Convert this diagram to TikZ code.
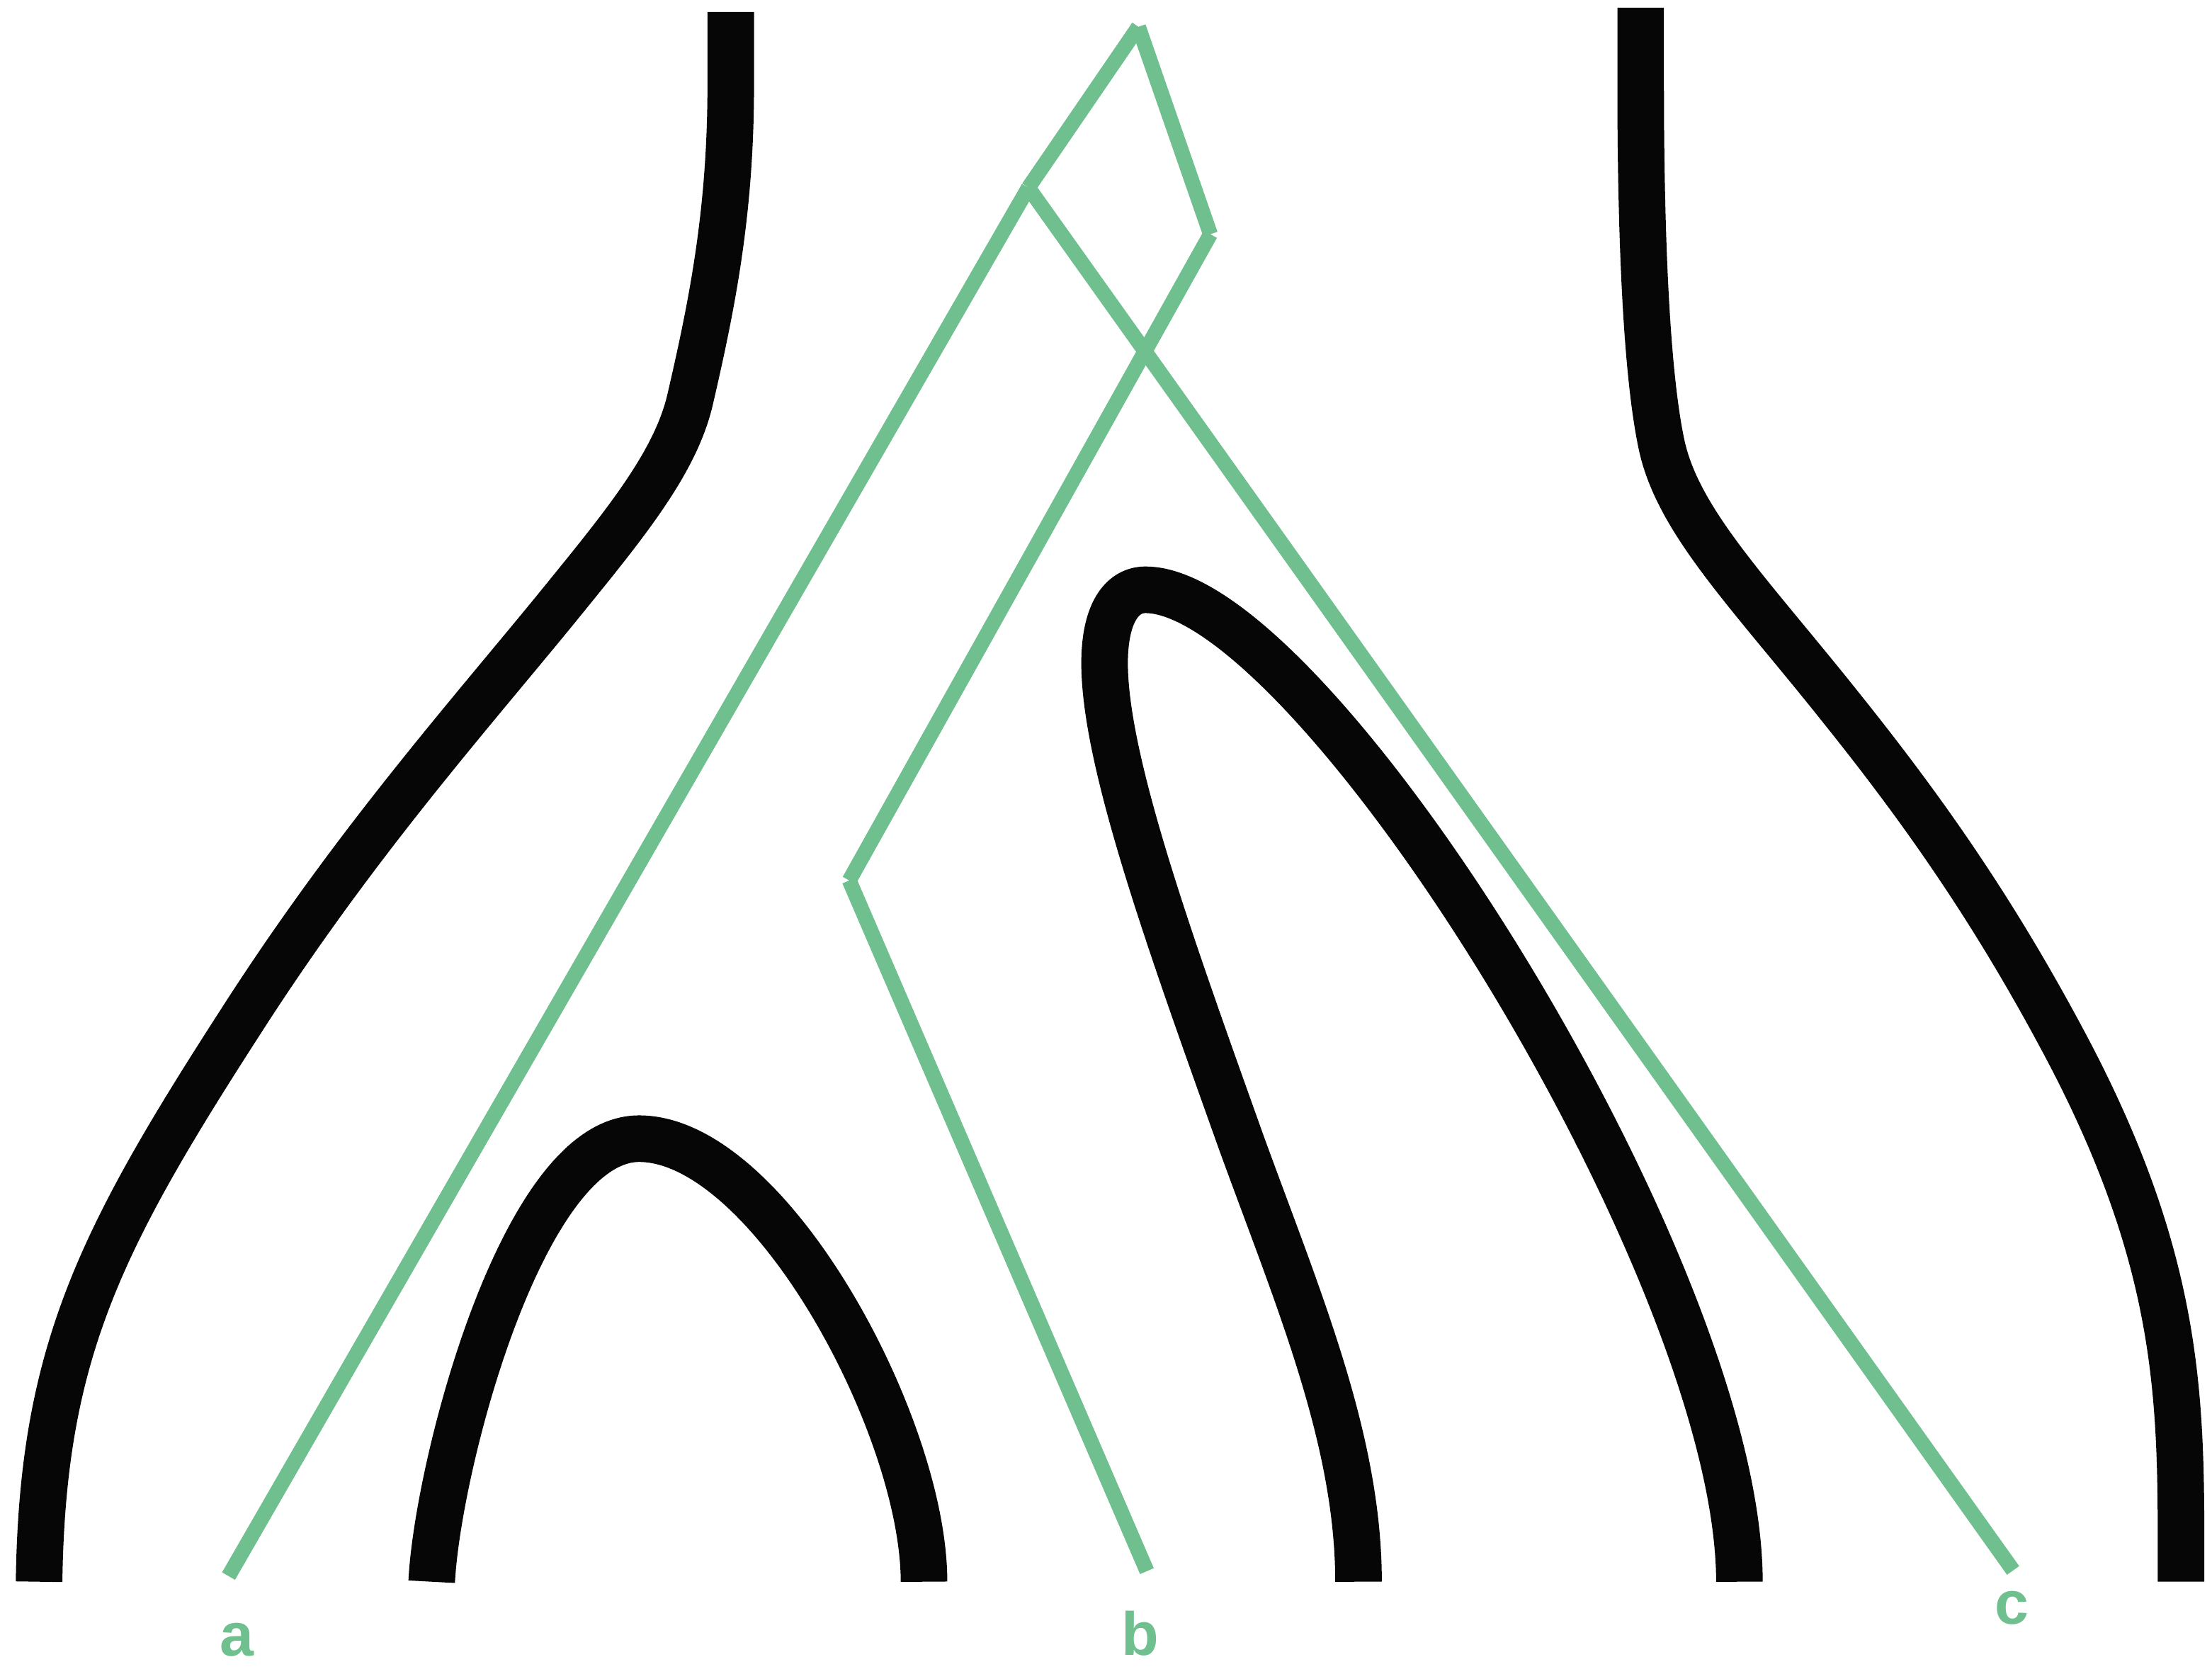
\documentclass[tikz,border=0pt]{standalone}
\usepackage{fontspec}
\setmainfont{Liberation Sans}
\definecolor{treegreen}{RGB}{111,191,143}
\definecolor{inkblack}{RGB}{5,6,5}
\begin{document}
\begin{tikzpicture}[x=0.019917cm,y=-0.019917cm,
  branch/.style={draw=treegreen,line width=6pt,line cap=butt},
  strand/.style={draw=inkblack,line width=18.7pt,line cap=butt,line join=round},
  leaflabel/.style={text=treegreen,font=\fontsize{24.5pt}{28pt}\selectfont\bfseries,anchor=base,inner sep=0pt}]
\useasboundingbox (0,0) rectangle (1568,1186);
% black strands
\draw[strand] (518,8.5) -- (518,60) .. controls (518,150) and (505,215) .. (489,284)
  .. controls (478,330) and (440,375) .. (394.6,431)
  .. controls (330,510) and (250,600) .. (170,725)
  .. controls (70,880) and (30,960) .. (27.7,1121);
\draw[strand] (306,1121) .. controls (310,1040) and (370,807) .. (453,807)
  .. controls (545,807) and (655,1010) .. (655,1121);
\draw[strand] (963,1121) .. controls (963,1020) and (920,920) .. (880,810)
  .. controls (830,670) and (783,540) .. (783,470)
  .. controls (783,435) and (795,418) .. (812,418)
  .. controls (930,418) and (1233,900) .. (1233,1121);
\draw[strand] (1163,5.5) -- (1163,60) .. controls (1163,180) and (1168,270) .. (1178,316)
  .. controls (1190,370) and (1240,420) .. (1303.8,500)
  .. controls (1360,570) and (1410,640) .. (1460.7,734.5)
  .. controls (1550,900) and (1546,1000) .. (1546,1121);
% green tree
\coordinate (T) at (807,19);
\coordinate (P1) at (729,133);
\coordinate (P2) at (858,166);
\coordinate (P3) at (602,624);
\coordinate (A) at (162,1117);
\coordinate (B) at (813,1113.5);
\coordinate (C) at (1427,1113);
\draw[branch] (T) -- (P1);
\draw[branch] (T) -- (P2);
\draw[branch] (P1) -- (A);
\draw[branch] (P1) -- (C);
\draw[branch] (P2) -- (P3);
\draw[branch] (P3) -- (B);
\node[leaflabel] (la) at (168,1173.5) {a};
\node[leaflabel] (lb) at (808,1173) {b};
\node[leaflabel] (lc) at (1426,1151) {c};
\end{tikzpicture}
\end{document}
